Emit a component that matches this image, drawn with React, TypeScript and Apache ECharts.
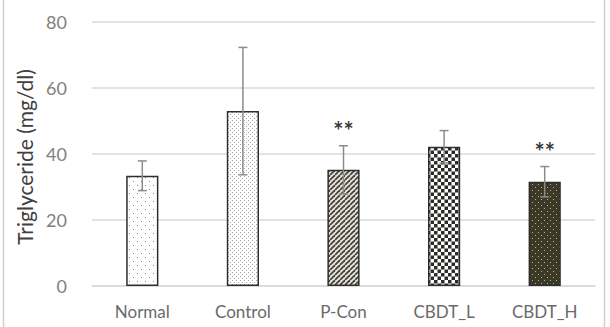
import React, { useEffect, useRef } from "react";
import * as echarts from "echarts";

const categories = ["Normal", "Control", "P-Con", "CBDT_L", "CBDT_H"];
const means = [33.4, 53.0, 35.2, 42.2, 31.6];
const sds = [4.5, 19.3, 7.3, 4.9, 4.6];
const significance = ["", "", "**", "", "**"];
const yTicks = [0, 20, 40, 60, 80];

const FONT = "Lato, 'Open Sans', sans-serif";

function tile(size: number, draw: (ctx: CanvasRenderingContext2D) => void) {
  const c = document.createElement("canvas");
  c.width = size;
  c.height = size;
  const ctx = c.getContext("2d")!;
  draw(ctx);
  return c;
}

function makePatterns() {
  // sparse dots
  const sparse = tile(8, (ctx) => {
    ctx.fillStyle = "#ffffff";
    ctx.fillRect(0, 0, 8, 8);
    ctx.fillStyle = "#8a8a8a";
    ctx.fillRect(1, 1, 1, 1);
    ctx.fillRect(5, 5, 1, 1);
  });
  // dense dots
  const dense = tile(4, (ctx) => {
    ctx.fillStyle = "#ffffff";
    ctx.fillRect(0, 0, 4, 4);
    ctx.fillStyle = "#a8a8a8";
    ctx.fillRect(0, 0, 1, 1);
    ctx.fillRect(2, 2, 1, 1);
  });
  // diagonal stripes
  const stripes = tile(5, (ctx) => {
    ctx.fillStyle = "#e8e6dc";
    ctx.fillRect(0, 0, 5, 5);
    ctx.strokeStyle = "#46443a";
    ctx.lineWidth = 1.8;
    for (let o = -5; o <= 10; o += 5) {
      ctx.beginPath();
      ctx.moveTo(o, 5);
      ctx.lineTo(o + 5, 0);
      ctx.stroke();
    }
  });
  // checkerboard
  const checks = tile(7, (ctx) => {
    ctx.fillStyle = "#ffffff";
    ctx.fillRect(0, 0, 7, 7);
    ctx.fillStyle = "#2c2c28";
    ctx.fillRect(0, 0, 3.5, 3.5);
    ctx.fillRect(3.5, 3.5, 3.5, 3.5);
  });
  // dark with light dots
  const darkDots = tile(6, (ctx) => {
    ctx.fillStyle = "#3c3a27";
    ctx.fillRect(0, 0, 6, 6);
    ctx.fillStyle = "#b8b08c";
    ctx.fillRect(1, 1, 1, 1);
    ctx.fillRect(4, 4, 1, 1);
  });
  return [sparse, dense, stripes, checks, darkDots];
}

export default function App() {
  const ref = useRef<HTMLDivElement>(null);

  useEffect(() => {
    if (!ref.current) return;
    const chart = echarts.init(ref.current, undefined, { renderer: "svg" });
    const patterns = makePatterns();

    const barData = means.map((v, i) => ({
      value: v,
      itemStyle: {
        color: { image: patterns[i], repeat: "repeat" } as any,
        borderColor: "#2e2e2e",
        borderWidth: 1.5,
      },
    }));

    const errData = means.map((v, i) => [i, v, sds[i]]);

    chart.setOption({
      animation: false,
      backgroundColor: "#ffffff",
      grid: { left: 92, right: 15, top: 22, bottom: 41 },
      graphic: [
        {
          type: "rect",
          shape: { x: 3.5, y: -2, width: 601, height: 331 },
          style: { fill: "none", stroke: "#cfcfcf", lineWidth: 1.5 },
          silent: true,
        },
        {
          type: "text",
          x: 24,
          y: 157,
          rotation: Math.PI / 2,
          style: {
            text: "Triglyceride (mg/dl)",
            font: `21px ${FONT}`,
            fill: "#404040",
            align: "center",
            verticalAlign: "middle",
          },
        },
      ],
      xAxis: {
        type: "category",
        data: categories,
        axisLine: { show: true, lineStyle: { color: "#d9d9d9", width: 1.5 } },
        axisTick: { show: false },
        axisLabel: {
          color: "#6a6a6a",
          fontFamily: FONT,
          fontSize: 17,
          margin: 17,
        },
      },
      yAxis: {
        type: "value",
        min: yTicks[0],
        max: yTicks[yTicks.length - 1],
        interval: 20,
        axisLine: { show: false },
        axisTick: { show: false },
        splitLine: { lineStyle: { color: "#d9d9d9", width: 1.5 } },
        axisLabel: {
          color: "#808080",
          fontFamily: FONT,
          fontSize: 18,
          margin: 25,
        },
      },
      series: [
        {
          type: "bar",
          data: barData,
          barWidth: "32%",
        },
        {
          type: "custom",
          data: errData,
          z: 5,
          renderItem: (params: any, api: any) => {
            const idx = api.value(0);
            const m = api.value(1);
            const s = api.value(2);
            const sig = significance[params.dataIndex];
            const top = api.coord([idx, m + s]);
            const bot = api.coord([idx, m - s]);
            const cap = 4.5;
            const lineStyle = { stroke: "#8c8c8c", lineWidth: 1.5 };
            const children: any[] = [
              { type: "line", shape: { x1: top[0], y1: top[1], x2: bot[0], y2: bot[1] }, style: lineStyle },
              { type: "line", shape: { x1: top[0] - cap, y1: top[1], x2: top[0] + cap, y2: top[1] }, style: lineStyle },
              { type: "line", shape: { x1: bot[0] - cap, y1: bot[1], x2: bot[0] + cap, y2: bot[1] }, style: lineStyle },
            ];
            if (sig) {
              children.push({
                type: "text",
                x: top[0],
                y: top[1] - 15,
                style: {
                  text: sig,
                  font: `bold 24px ${FONT}`,
                  fill: "#3a3a3a",
                  align: "center",
                  verticalAlign: "middle",
                },
              });
            }
            return { type: "group", children };
          },
        },
      ],
    });

    return () => chart.dispose();
  }, []);

  return (
    <div
      ref={ref}
      style={{ position: "absolute", left: 0, top: 0, width: 610, height: 327 }}
    />
  );
}
